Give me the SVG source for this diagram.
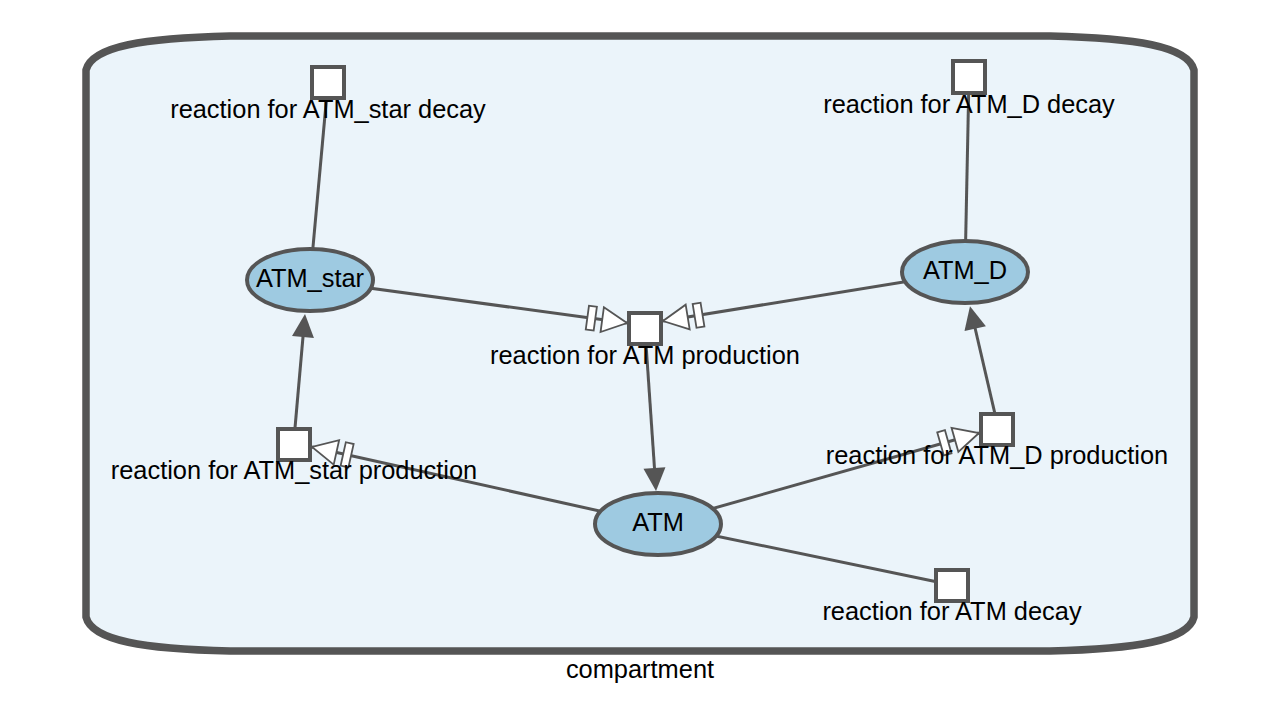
<svg xmlns="http://www.w3.org/2000/svg" width="1280" height="720" viewBox="0 0 1280 720">
<style>
text{font-family:"Liberation Sans",Arial,sans-serif;font-size:25.4px;fill:#000;text-anchor:middle}
.edge{stroke:#555;stroke-width:3;fill:none}
.species{fill:#9ecae1;stroke:#555;stroke-width:4}
.proc{fill:#fff;stroke:#555;stroke-width:4}
</style>
<defs>
<marker id="nstim" markerUnits="userSpaceOnUse" viewBox="-44 -16 48 32" markerWidth="48" markerHeight="32" refX="0" refY="0" orient="auto" overflow="visible">
<rect x="-40" y="-12" width="8" height="24" fill="#fff" stroke="#555" stroke-width="1.8"/>
<path d="M-25,-12.5 L0,0 L-25,12.5 Z" fill="#fff" stroke="#555" stroke-width="1.8"/>
</marker>
<marker id="stim" markerUnits="userSpaceOnUse" viewBox="-18 -13 30 26" markerWidth="30" markerHeight="26" refX="0" refY="0" orient="auto" overflow="visible">
<path d="M-15,-11 L8,0 L-15,11 Z" fill="#555"/>
</marker>
</defs>
<rect width="1280" height="720" fill="#fff"/>
<g id="compartment">
<path d="M86,70 C92,46 145,38 230,36 L1050,36 C1135,38 1188,46 1194,70 L1194,617 C1188,641 1135,649 1050,651 L230,651 C145,649 92,641 86,617 Z" fill="#ebf4fa" stroke="#555" stroke-width="7.5" stroke-linejoin="round"/>
<text x="640" y="678">compartment</text>
</g>
<g id="connectors">
<line class="edge" x1="310" y1="280" x2="328" y2="82"/>
<line class="edge" x1="965" y1="272" x2="969" y2="77"/>
<line class="edge" x1="658" y1="524" x2="952" y2="585"/>
<line class="edge" x1="310" y1="280" x2="627" y2="323" marker-end="url(#nstim)"/>
<line class="edge" x1="965" y1="272" x2="663" y2="321" marker-end="url(#nstim)"/>
<line class="edge" x1="658" y1="524" x2="312" y2="447" marker-end="url(#nstim)"/>
<line class="edge" x1="658" y1="524" x2="979" y2="433" marker-end="url(#nstim)"/>
<line class="edge" x1="646" y1="344" x2="655.5" y2="483" marker-end="url(#stim)"/>
<line class="edge" x1="295" y1="428" x2="304.3" y2="322" marker-end="url(#stim)"/>
<line class="edge" x1="995" y1="414" x2="971.8" y2="314" marker-end="url(#stim)"/>
</g>
<g id="ATM_star">
<ellipse class="species" cx="310" cy="280" rx="63" ry="31"/>
<text x="310" y="287">ATM_star</text>
</g>
<g id="ATM_D">
<ellipse class="species" cx="965" cy="272" rx="63" ry="31"/>
<text x="965" y="279">ATM_D</text>
</g>
<g id="ATM">
<ellipse class="species" cx="658" cy="524" rx="63" ry="31"/>
<text x="658" y="531">ATM</text>
</g>
<g id="r_ATM_star_decay">
<rect class="proc" x="312" y="67" width="32" height="31"/>
<text x="328" y="118">reaction for ATM_star decay</text>
</g>
<g id="r_ATM_D_decay">
<rect class="proc" x="953" y="61" width="32" height="32"/>
<text x="969" y="113">reaction for ATM_D decay</text>
</g>
<g id="r_ATM_production">
<rect class="proc" x="629" y="313" width="32" height="31"/>
<text x="645" y="364">reaction for ATM production</text>
</g>
<g id="r_ATM_star_production">
<rect class="proc" x="278" y="429" width="32" height="31"/>
<text x="294" y="479">reaction for ATM_star production</text>
</g>
<g id="r_ATM_D_production">
<rect class="proc" x="981" y="414" width="32" height="31"/>
<text x="997" y="464">reaction for ATM_D production</text>
</g>
<g id="r_ATM_decay">
<rect class="proc" x="936" y="570" width="32" height="31"/>
<text x="952" y="620">reaction for ATM decay</text>
</g>
</svg>
